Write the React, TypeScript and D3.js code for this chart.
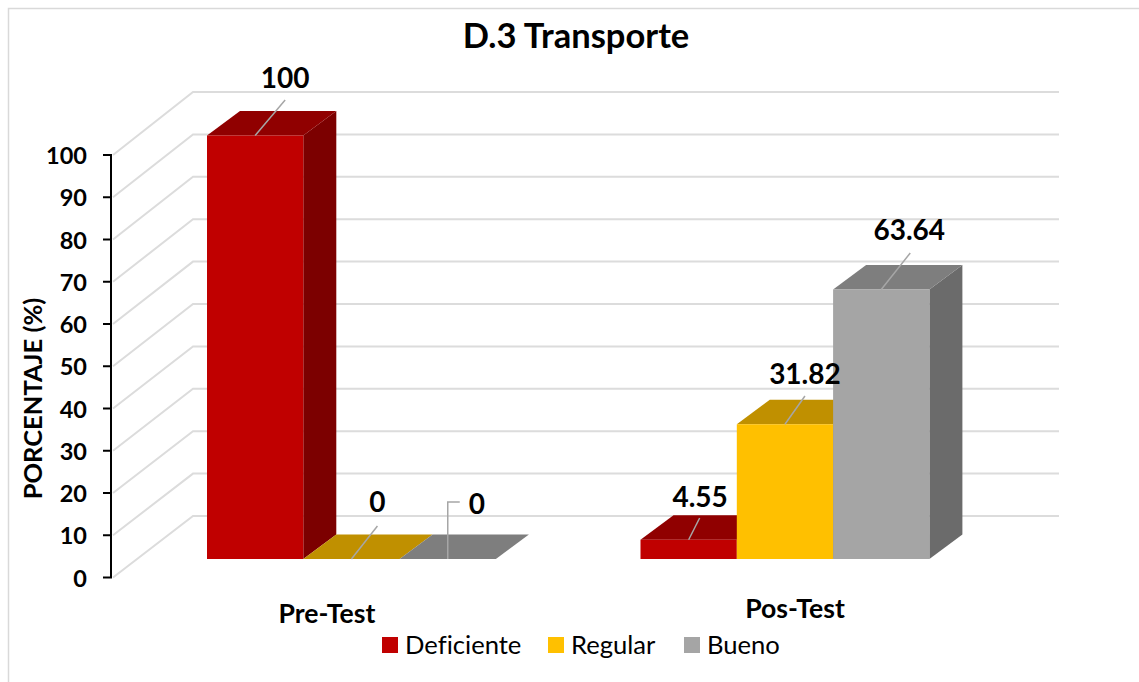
import React from "react";
import * as d3 from "d3";

const categories = ["Pre-Test", "Pos-Test"];
const seriesNames = ["Deficiente", "Regular", "Bueno"];
const deficiente = [100, 4.55];
const regular = [0, 31.82];
const bueno = [0, 63.64];
const valueLabels = [["100", "4.55"], ["0", "31.82"], ["0", "63.64"]];
const yTicks = [0, 10, 20, 30, 40, 50, 60, 70, 80, 90, 100];
const frontColors = ["#C00000", "#FFC000", "#A5A5A5"];
const topColors = ["#900000", "#C09000", "#7E7E7E"];
const sideColors = ["#7C0000", "#A67C00", "#6B6B6B"];

const seriesValues = [deficiente, regular, bueno];
const font = "Lato, Carlito, sans-serif";

const axisY = d3.scaleLinear().domain([0, 100]).range([577.5, 155]);
const backY = d3.scaleLinear().domain([0, 100]).range([516, 92]);
const barY = d3.scaleLinear().domain([0, 100]).range([559, 135.5]);
const barW = 96.3;
const depthX = 33;
const depthY = 24.5;

const labelPos = [
  [{ dx: 30, y: 78, lx: 30, ly: 100 }, { dx: 11.5, y: 497, lx: 11, ly: 518 }],
  [{ dx: 26, y: 502, lx: 26, ly: 526 }, { dx: 20, y: 374, lx: 20, ly: 396 }],
  [{ dx: 29, y: 504, lx: 0, ly: 0 }, { dx: 28, y: 230, lx: 29, ly: 253 }],
];

export default function App() {
  const W = 1139, H = 682;
  const barX = (ci: number, si: number) => {
    const center = ci === 0 ? 207 + barW * 1.5 : 640.5 + barW * 1.5;
    return center + (si - 1.5) * barW;
  };
  return (
    <svg width={W} height={H} style={{ position: "fixed", left: 0, top: 0, display: "block", background: "#fff", fontVariantLigatures: "none" }} fontFamily={font}>
      <rect x={8.5} y={8.5} width={W + 20} height={H + 20} fill="#fff" stroke="#d9d9d9" strokeWidth={1.5} />
      <text x={576} y={48} textAnchor="middle" fontSize={34.5} fontWeight={700}>D.3 Transporte</text>

      {yTicks.map((t) => (
        <g key={t} fill="none" stroke="#dcdcdc" strokeWidth={2}>
          <path d={`M${113},${axisY(t)}L${193},${backY(t)}L${1059},${backY(t)}`} />
        </g>
      ))}

      {seriesNames.map((_, si) =>
        categories.map((c, ci) => {
          const v = seriesValues[si][ci];
          const x0 = barX(ci, si);
          const x1 = x0 + barW;
          const y0 = barY(0);
          const y1 = barY(v);
          return (
            <g key={c + si}>
              <path d={`M${x1},${y1}L${x1 + depthX},${y1 - depthY}L${x1 + depthX},${y0 - depthY}L${x1},${y0}Z`} fill={sideColors[si]} />
              <path d={`M${x0},${y1}L${x0 + depthX},${y1 - depthY}L${x1 + depthX},${y1 - depthY}L${x1},${y1}Z`} fill={topColors[si]} />
              <rect x={x0} y={y1} width={barW} height={y0 - y1} fill={frontColors[si]} />
            </g>
          );
        })
      )}

      <line x1={111} x2={111} y1={axisY(100)} y2={axisY(0)} stroke="#000" strokeWidth={2} />
      {yTicks.map((t) => (
        <g key={t}>
          <line x1={103} x2={112} y1={axisY(t)} y2={axisY(t)} stroke="#000" strokeWidth={2} />
          <text x={87} y={axisY(t) + 9} textAnchor="end" fontSize={23.5} fontWeight={700}>{t}</text>
        </g>
      ))}
      <text transform={`translate(42,398.5) rotate(-90)`} textAnchor="middle" fontSize={25.5} fontWeight={700}>PORCENTAJE (%)</text>

      {categories.map((c, ci) => (
        <text key={c} x={ci === 0 ? 327 : 795} y={ci === 0 ? 623 : 618} textAnchor="middle" fontSize={26.6} fontWeight={700}>{c}</text>
      ))}

      {seriesNames.map((_, si) =>
        categories.map((c, ci) => {
          const x0 = barX(ci, si);
          const cx = x0 + barW / 2;
          const y1 = barY(seriesValues[si][ci]);
          const p = labelPos[si][ci];
          const isElbow = si === 2 && ci === 0;
          return (
            <g key={c + si}>
              {isElbow ? (
                <path d={`M${cx},${y1}L${cx},${y1 - 57}L${cx + 12},${y1 - 57}`} fill="none" stroke="#a6a6a6" strokeWidth={1.5} />
              ) : (
                <line x1={cx} y1={y1} x2={cx + p.lx} y2={p.ly} stroke="#a6a6a6" strokeWidth={1.5} />
              )}
            </g>
          );
        })
      )}
      {seriesNames.map((_, si) =>
        categories.map((c, ci) => {
          const p = labelPos[si][ci];
          const cx = barX(ci, si) + barW / 2;
          return (
            <text key={c + si} x={cx + p.dx} y={p.y + 9.5} textAnchor="middle" fontSize={28} fontWeight={700}>{valueLabels[si][ci]}</text>
          );
        })
      )}

      {seriesNames.map((s, si) => {
        const xs = [382, 548, 684];
        return (
          <g key={s}>
            <rect x={xs[si]} y={637} width={16} height={16} fill={frontColors[si]} />
            <text x={xs[si] + 23} y={653.5} fontSize={25.6}>{s}</text>
          </g>
        );
      })}
    </svg>
  );
}
